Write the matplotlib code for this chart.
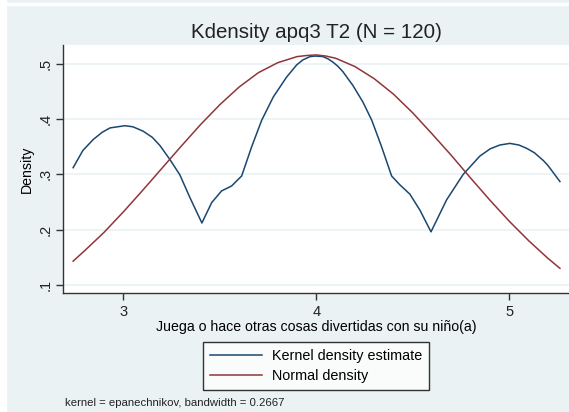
import numpy as np
import matplotlib.pyplot as plt
from matplotlib.patches import Rectangle

plt.rcParams['font.family'] = ['Liberation Sans', 'DejaVu Sans']

# kernel density estimate
kde_x = [2.740, 2.790, 2.844, 2.890, 2.931, 3.008, 3.050, 3.103, 3.150, 3.190,
         3.241, 3.293, 3.345, 3.407, 3.458, 3.509, 3.561, 3.613, 3.665, 3.717,
         3.777, 3.846, 3.898, 3.930, 3.967, 3.995, 4.034, 4.060, 4.086, 4.110,
         4.137, 4.189, 4.241, 4.287, 4.338, 4.390, 4.433, 4.485, 4.537, 4.594,
         4.675, 4.761, 4.847, 4.900, 4.950, 5.003, 5.050, 5.090, 5.130, 5.176,
         5.200, 5.262]
kde_y = [0.312, 0.343, 0.363, 0.376, 0.384, 0.388, 0.386, 0.378, 0.367, 0.352,
         0.327, 0.299, 0.258, 0.212, 0.249, 0.270, 0.279, 0.297, 0.350, 0.398,
         0.440, 0.476, 0.498, 0.507, 0.513, 0.514, 0.513, 0.509, 0.503, 0.496,
         0.486, 0.461, 0.431, 0.398, 0.350, 0.297, 0.281, 0.264, 0.235, 0.196,
         0.254, 0.300, 0.333, 0.346, 0.353, 0.356, 0.353, 0.347, 0.339, 0.325,
         0.316, 0.287]

# normal density
norm_x = [2.74, 2.80, 2.90, 3.00, 3.10, 3.20, 3.30, 3.40, 3.50, 3.60, 3.70,
          3.80, 3.90, 3.95, 4.00, 4.05, 4.10, 4.20, 4.30, 4.40, 4.50, 4.60,
          4.70, 4.80, 4.90, 5.00, 5.10, 5.20, 5.262]
norm_y = [0.143, 0.162, 0.195, 0.232, 0.271, 0.311, 0.351, 0.390, 0.426, 0.458,
          0.484, 0.502, 0.513, 0.515, 0.516, 0.514, 0.510, 0.495, 0.473, 0.445,
          0.411, 0.373, 0.334, 0.293, 0.253, 0.215, 0.180, 0.148, 0.130]

xticks = [3, 4, 5]
yticks = [0.1, 0.2, 0.3, 0.4, 0.5]
ytick_labels = ['.1', '.2', '.3', '.4', '.5']

bg = '#eaf2f3'
fig = plt.figure(figsize=(5.69, 4.12), dpi=100, facecolor=bg)
# screenshot edges
fig.patches.append(Rectangle((0, 0), 6 / 569, 1, transform=fig.transFigure,
                             color='white', zorder=0))
fig.patches.append(Rectangle((0, 1 - 5 / 412), 1, 2 / 412, transform=fig.transFigure,
                             color='white', zorder=0))

ax = fig.add_axes([63.3 / 569, (412 - 293.3) / 412, 1 - 63.3 / 569, (293.3 - 45) / 412])
ax.set_facecolor('white')

ax.plot(kde_x, kde_y, color='#1a476f', lw=1.1, label='Kernel density estimate')
ax.plot(norm_x, norm_y, color='#90353b', lw=1.1, label='Normal density')

ax.set_xlim(2.689, 5.309)
ax.set_ylim(0.0848, 0.534)
ax.set_xticks(xticks)
ax.set_yticks(yticks)
ax.set_yticklabels(ytick_labels, rotation=90, va='center')
ax.grid(axis='y', color=bg, lw=1.2)
ax.set_axisbelow(True)

for s in ['top', 'right']:
    ax.spines[s].set_visible(False)
for s in ['left', 'bottom']:
    ax.spines[s].set_color('#333333')
    ax.spines[s].set_linewidth(1.0)
ax.tick_params(direction='out', length=5, width=1, color='#333333',
               labelsize=10.5, labelcolor='#222222')
ax.tick_params(axis='y', pad=2.5)

ax.set_ylabel('Density', fontsize=10.2)
ax.yaxis.set_label_coords(-0.058, 0.5)
ax.set_xlabel('Juega o hace otras cosas divertidas con su niño(a)', fontsize=10.2, labelpad=1)

fig.text(316 / 569, 1 - 33 / 412, 'Kdensity apq3 T2 (N = 120)', ha='center', va='center',
         fontsize=14.8, color='#222222')

leg = fig.legend(loc='center', bbox_to_anchor=(316 / 569, 1 - 366 / 412), ncol=1,
                 fontsize=10.4, frameon=True, fancybox=False, edgecolor='black',
                 facecolor='white', handlelength=3.6, borderpad=0.5,
                 labelspacing=0.42, handletextpad=0.7, borderaxespad=0)
leg.get_frame().set_linewidth(1.0)

fig.text(65 / 569, 1 - 403 / 412, 'kernel = epanechnikov, bandwidth = 0.2667',
         ha='left', va='center', fontsize=8.2, color='#222222')

fig.savefig('out.png', dpi=100, facecolor=bg)
